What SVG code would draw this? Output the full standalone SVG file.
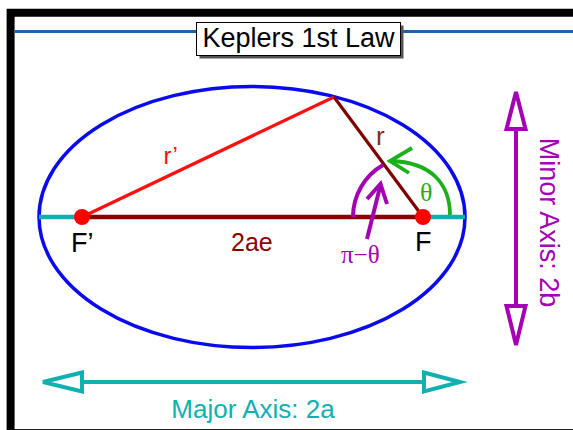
<svg xmlns="http://www.w3.org/2000/svg" width="573" height="430" viewBox="0 0 573 430">
<style>
text{font-family:"Liberation Sans",Arial,sans-serif}
.greek{font-family:"Liberation Serif","Times New Roman",serif}
.teal{stroke:#0fb0b0}
.purple{stroke:#a400b4}
.open{fill:#fff;stroke-width:4;stroke-linejoin:miter}
.ln{fill:none;stroke-linecap:butt}
</style>
<rect width="573" height="430" fill="#fff"/>
<g id="frame">
<path d="M10.6,430 V12.8 H573" fill="none" stroke="#000" stroke-width="8"/>
<line x1="14" y1="429.5" x2="573" y2="429.5" stroke="#222" stroke-width="1"/>
<line x1="14.6" y1="31.5" x2="573" y2="31.5" stroke="#1e60aa" stroke-width="3"/>
</g>
<g id="title">
<rect x="199.5" y="25.5" width="204" height="33" fill="#555"/>
<rect x="196.5" y="22.5" width="204" height="33" fill="#fff" stroke="#000" stroke-width="1"/>
<text x="298.5" y="46.5" font-size="27" text-anchor="middle" fill="#000">Keplers 1st Law</text>
</g>
<g id="ellipse">
<ellipse cx="252" cy="217" rx="213" ry="130.5" fill="none" stroke="#0a0aee" stroke-width="3.5"/>
</g>
<g id="connectors">
<line class="ln teal" x1="39" y1="217" x2="82" y2="217" stroke-width="4.5"/>
<line class="ln teal" x1="423" y1="217" x2="465" y2="217" stroke-width="4.5"/>
<line class="ln" x1="82" y1="217" x2="423" y2="217" stroke="#8b0000" stroke-width="4.5"/>
<line class="ln" x1="82" y1="217" x2="334" y2="97" stroke="#ff1010" stroke-width="3.2"/>
<line class="ln" x1="334" y1="97" x2="423" y2="217" stroke="#800000" stroke-width="3.2"/>
<path class="ln" d="M450,215 C450,184 431,162 391,161" stroke="#1db01d" stroke-width="3.8"/>
<path class="ln" d="M412,148 L390,161 L409,173" stroke="#1db01d" stroke-width="3.8"/>
<path class="ln purple" d="M353,217 A60,60 0 0 1 383,165" stroke-width="4"/>
<line class="ln purple" x1="367" y1="239" x2="380.5" y2="185" stroke-width="4"/>
<path class="ln purple" d="M367,199 L380.5,184 L387,204" stroke-width="4"/>
</g>
<g id="focus-left">
<circle cx="82" cy="217" r="8" fill="#ff0000"/>
<text x="71" y="252" font-size="27" fill="#000">F’</text>
</g>
<g id="focus-right">
<circle cx="423" cy="217" r="8" fill="#ff0000"/>
<text x="415" y="251" font-size="27" fill="#000">F</text>
</g>
<g id="labels">
<text x="163.5" y="163.5" font-size="24" fill="#ff1010">r’</text>
<text x="376" y="145" font-size="26" fill="#8b2a10">r</text>
<text class="greek" x="420" y="201" font-size="26" fill="#1db01d">θ</text>
<text class="greek" x="341" y="263" font-size="25" fill="#a400b4">π−θ</text>
<text x="231" y="251" font-size="25" fill="#8b0000">2ae</text>
</g>
<g id="major-axis">
<line class="ln teal" x1="82" y1="382" x2="424" y2="382" stroke-width="4"/>
<path class="open teal" d="M82,372.5 L43,382 L82,391.5 Z"/>
<path class="open teal" d="M424,372.5 L460,382 L424,391.5 Z"/>
<text x="253" y="418" font-size="26" text-anchor="middle" fill="#0fb0b0">Major Axis: 2a</text>
</g>
<g id="minor-axis">
<line class="ln purple" x1="516" y1="129" x2="516" y2="306" stroke-width="4"/>
<path class="open purple" d="M506.5,129 L516,92 L525.5,129 Z"/>
<path class="open purple" d="M506.5,306 L516,345 L525.5,306 Z"/>
<text transform="translate(540,222.5) rotate(90)" font-size="27" text-anchor="middle" fill="#a400b4">Minor Axis: 2b</text>
</g>
</svg>
